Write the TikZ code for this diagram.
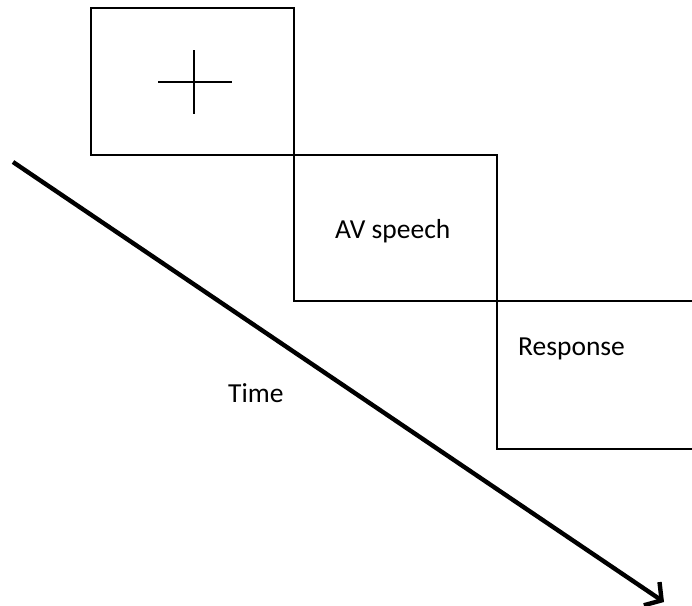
\documentclass[tikz,border=0pt]{standalone}
\usepackage{fontspec}
\setmainfont{Carlito}
\usetikzlibrary{arrows.meta}
\tikzset{>=Straight Barb[]}
\tikzset{
  frame/.style={line width=2.8pt},
  label/.style={anchor=base west,inner sep=0pt,font=\fontsize{27.5}{32}\selectfont}
}

\begin{document}
\begin{tikzpicture}[x=1pt,y=-1pt]
			\useasboundingbox (0,0) rectangle (692,605);
			% \draw[help lines,step=50] (0,0) grid (692,605);
			\coordinate (fixA) at (91,8);
			\coordinate (fixB) at (294,155);
			\coordinate (avA) at (294,155);
			\coordinate (avB) at (497,301);
			\coordinate (respA) at (497,301);
			\coordinate (respB) at (694,449);
			\coordinate (crossL) at (158,82);
			\coordinate (crossR) at (232,82);
			\coordinate (crossT) at (194,50);
			\coordinate (crossB) at (194,114);
			\coordinate (tStart) at (13,162);
			\coordinate (tEnd) at (664,602);
			\foreach \a/\b in {fixA/fixB,avA/avB}{
				\draw[frame] (\a) rectangle (\b);
			}
			\draw[frame] (respB|-respA) -- (respA) -- (respA|-respB) -- (respB);
			\draw[line width=2.4pt] (crossL) -- (crossR) (crossT) -- (crossB);
			\node[label] (avtext) at (335,238) {AV speech};
			\node[label] (resptext) at (518,355) {Response};
			\node[label] (timetext) at (228,402) {Time};
			\draw[->,line width=4.4pt,>={Straight Barb[length=12pt,width=28pt]}] (tStart) -- (tEnd);
		\end{tikzpicture}
\end{document}
